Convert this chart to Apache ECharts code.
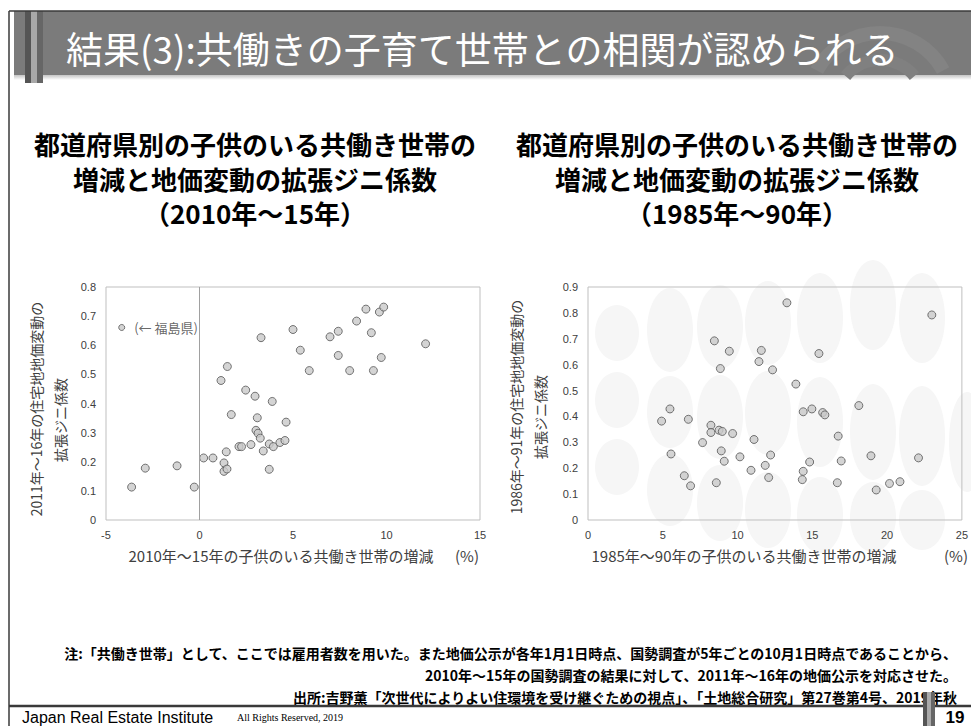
<!DOCTYPE html>
<html><head><meta charset="utf-8">
<script src="https://cdn.jsdelivr.net/npm/echarts@6/dist/echarts.min.js"></script>
<style>html,body{margin:0;padding:0;background:#fff}#c{width:971px;height:726px}</style>
</head><body><div id="c"></div>
<script>
// ---- data: 2010-15 (left) ----
const leftX = [-4.16,-3.63,-2.90,-1.20,-0.28,0.22,0.72,1.31,1.31,1.47,1.43,1.15,1.49,1.70,2.11,2.25,2.47,2.75,2.97,3.02,3.13,3.25,3.09,3.29,3.41,3.73,3.73,3.89,3.95,4.30,4.57,4.63,5.00,5.39,5.87,6.98,7.42,7.42,8.03,8.40,8.90,9.19,9.30,9.62,9.85,9.72,12.09];
const leftY = [0.661,0.113,0.178,0.186,0.113,0.213,0.213,0.196,0.167,0.175,0.234,0.479,0.527,0.362,0.252,0.252,0.446,0.259,0.425,0.308,0.298,0.281,0.351,0.626,0.237,0.261,0.174,0.407,0.252,0.266,0.273,0.336,0.654,0.583,0.513,0.629,0.648,0.565,0.513,0.683,0.724,0.643,0.513,0.714,0.731,0.558,0.605];
// ---- data: 1985-90 (right) ----
const rightX = [4.92,5.48,5.55,6.44,6.71,6.86,7.66,8.22,8.22,8.45,8.58,8.76,8.85,8.91,8.98,9.11,9.45,9.67,10.16,10.90,11.10,11.43,11.59,11.85,12.08,12.21,12.34,13.30,13.90,14.33,14.39,14.39,14.82,14.97,15.44,15.69,15.84,16.67,16.73,16.93,18.11,18.92,19.27,20.16,20.86,22.10,22.99];
const rightY = [0.382,0.429,0.255,0.171,0.389,0.132,0.299,0.366,0.338,0.692,0.144,0.347,0.585,0.267,0.342,0.227,0.652,0.334,0.244,0.192,0.311,0.612,0.655,0.211,0.164,0.251,0.580,0.839,0.525,0.156,0.188,0.418,0.224,0.429,0.643,0.415,0.406,0.144,0.324,0.228,0.442,0.248,0.116,0.141,0.148,0.240,0.792];
// axis ranges [min, max, interval]
const leftXRange = [-5, 15, 5];
const leftYRange = [0, 0.8, 0.1];
const rightXRange = [0, 25, 5];
const rightYRange = [0, 0.9, 0.1];
const labelFukushima = '(← 福島県)';
const highlightIndex = 0;

const CJK = "'Noto Sans CJK JP', 'Noto Sans', sans-serif";
const NUM = "'Liberation Sans', 'DejaVu Sans', sans-serif";

const chart = echarts.init(document.getElementById('c'), null, {renderer: 'svg'});

const pointStyle = {color: '#c9c9c9', borderColor: '#555555', borderWidth: 1};
const leftData = leftX.map((x, i) => {
  const d = {value: [x, leftY[i]]};
  if (i === highlightIndex) {
    d.symbolSize = 6;
    d.label = {show: true, position: 'right', distance: 9, formatter: labelFukushima,
      fontSize: 13, color: '#404040', fontFamily: CJK};
  }
  return d;
});
const rightData = rightX.map((x, i) => [x, rightY[i]]);

function xAxis(range, gi) {
  return {type: 'value', gridIndex: gi, min: range[0], max: range[1], interval: range[2],
    axisLine: {show: false}, axisTick: {show: false}, splitLine: {show: false},
    axisLabel: {color: '#404040', fontSize: 11, fontFamily: NUM, margin: 9}};
}
function yAxis(range, gi) {
  return {type: 'value', gridIndex: gi, min: range[0], max: range[1], interval: range[2],
    axisLine: {show: false}, axisTick: {show: false}, splitLine: {show: false},
    axisLabel: {color: '#404040', fontSize: 11, fontFamily: NUM, margin: 10,
      formatter: v => (Math.abs(v) < 1e-9 ? '0' : v.toFixed(1))}};
}

// decorative watermark ellipses (background pattern of the slide)
const deco = [
  [617,333,22,28],[617,400,22,28],[617,467,22,28],
  [670,330,23,42],[670,412,23,36],[670,490,23,36],
  [720,327,23,42],[720,417,23,42],[720,503,23,38],
  [768,323,23,42],[768,413,23,42],[768,510,23,38],
  [820,318,23,45],[820,422,23,45],[820,515,23,38],
  [873,305,23,45],[873,432,23,48],[873,517,23,35],
  [922,318,23,45],[922,436,23,50],[922,520,23,30],
  [967,442,18,50]
];
const decoEls = deco.map(d => ({type: 'circle', x: d[0], y: d[1], scaleY: d[3] / d[2],
  shape: {cx: 0, cy: 0, r: d[2]}, style: {fill: '#f6f6f6'}, z: -5, silent: true}));

const sub = (x, y, t) => ({type: 'text', x: x, y: y, style: {text: t, fill: '#000', font: "bold 26px " + CJK, textAlign: 'center', textVerticalAlign: 'middle'}});
const note = (y, t) => ({type: 'text', x: 957, y: y, style: {text: t, fill: '#000', font: "bold 14px " + CJK, textAlign: 'right', textVerticalAlign: 'middle'}});
const axT = (x, y, t, rot, size) => ({type: 'text', x: x, y: y, rotation: rot ? Math.PI / 2 : 0,
  style: {text: t, fill: '#404040', font: size + "px " + CJK, textAlign: 'center', textVerticalAlign: 'middle'}});

const graphic = [
  ...decoEls,
  // header bar
  {type: 'rect', shape: {x: 14, y: 75, width: 957, height: 5}, style: {fill: new echarts.graphic.LinearGradient(0,0,0,1,[{offset:0,color:'#c4c4c4'},{offset:1,color:'#ffffff'}])}, silent: true},
  {type: 'rect', shape: {x: 14, y: 11, width: 957, height: 64}, style: {fill: '#7b7b7b'}, silent: true},
  {type: 'arc', shape: {cx: 880, cy: 105, r: 72, startAngle: -Math.PI + 0.5, endAngle: -0.5}, style: {stroke: '#838383', lineWidth: 14, fill: null}, silent: true},
  {type: 'arc', shape: {cx: 880, cy: 105, r: 45, startAngle: -Math.PI + 0.7, endAngle: -0.7}, style: {stroke: '#808080', lineWidth: 12, fill: null}, silent: true},
  {type: 'rect', shape: {x: 25, y: 11, width: 6, height: 72}, style: {fill: '#555555'}, silent: true},
  {type: 'rect', shape: {x: 31, y: 11, width: 6, height: 72}, style: {fill: '#a8a8a8'}, silent: true},
  {type: 'rect', shape: {x: 37, y: 11, width: 6, height: 72}, style: {fill: '#666666'}, silent: true},
  // frame
  {type: 'line', shape: {x1: 9, y1: 11, x2: 971, y2: 11}, style: {stroke: '#3a3a3a', lineWidth: 1.5}, silent: true},
  {type: 'line', shape: {x1: 9, y1: 11, x2: 9, y2: 726}, style: {stroke: '#3a3a3a', lineWidth: 1.5}, silent: true},
  // title
  {type: 'text', x: 66, y: 48, style: {text: '結果(3):共働きの子育て世帯との相関が認められる', fill: '#ffffff',
    font: "normal 37px " + CJK, textVerticalAlign: 'middle', textAlign: 'left'}},
  // subtitles
  sub(255, 143, '都道府県別の子供のいる共働き世帯の'),
  sub(255, 178, '増減と地価変動の拡張ジニ係数'),
  sub(255, 212, '（2010年～15年）'),
  sub(737, 143, '都道府県別の子供のいる共働き世帯の'),
  sub(737, 178, '増減と地価変動の拡張ジニ係数'),
  sub(737, 212, '（1985年～90年）'),
  // axis titles left
  axT(36, 409, '2011年～16年の住宅地地価変動の', true, 14),
  axT(60, 420, '拡張ジニ係数', true, 14),
  axT(281, 555, '2010年～15年の子供のいる共働き世帯の増減', false, 15),
  axT(467, 555, '(%)', false, 15),
  // axis titles right
  axT(516, 407, '1986年～91年の住宅地地価変動の', true, 14),
  axT(540, 417, '拡張ジニ係数', true, 14),
  axT(744, 555, '1985年～90年の子供のいる共働き世帯の増減', false, 15),
  axT(956, 555, '(%)', false, 15),
  // notes
  note(653, '注:「共働き世帯」として、ここでは雇用者数を用いた。また地価公示が各年1月1日時点、国勢調査が5年ごとの10月1日時点であることから、'),
  note(675, '2010年～15年の国勢調査の結果に対して、2011年～16年の地価公示を対応させた。'),
  note(697, '出所:吉野薫「次世代によりよい住環境を受け継ぐための視点」、「土地総合研究」第27巻第4号、2019年秋'),
  // footer
  {type: 'line', shape: {x1: 9, y1: 706, x2: 971, y2: 706}, style: {stroke: '#3a3a3a', lineWidth: 2.5}, silent: true},
  {type: 'rect', shape: {x: 923, y: 692, width: 4, height: 34}, style: {fill: '#555555'}, silent: true},
  {type: 'rect', shape: {x: 927, y: 692, width: 4, height: 34}, style: {fill: '#aaaaaa'}, silent: true},
  {type: 'rect', shape: {x: 931, y: 692, width: 4, height: 34}, style: {fill: '#666666'}, silent: true},
  {type: 'text', x: 22, y: 717, style: {text: 'Japan Real Estate Institute', fill: '#000', font: "16px 'Liberation Sans Narrow', 'Liberation Sans', sans-serif", textAlign: 'left', textVerticalAlign: 'middle'}},
  {type: 'text', x: 237, y: 717, style: {text: 'All Rights Reserved, 2019', fill: '#000', font: "10px 'Liberation Serif', serif", textAlign: 'left', textVerticalAlign: 'middle'}},
  {type: 'text', x: 955, y: 717, style: {text: '19', fill: '#000', font: "bold 17px 'Liberation Sans Narrow', 'Liberation Sans', sans-serif", textAlign: 'center', textVerticalAlign: 'middle'}}
];

chart.setOption({
  animation: false,
  backgroundColor: '#ffffff',
  graphic: graphic,
  grid: [
    {left: 106, right: 491, top: 287, bottom: 206, show: true, borderColor: '#bfbfbf', borderWidth: 1, backgroundColor: 'transparent'},
    {left: 588, right: 9, top: 287, bottom: 206, show: true, borderColor: '#bfbfbf', borderWidth: 1, backgroundColor: 'transparent'}
  ],
  xAxis: [xAxis(leftXRange, 0), xAxis(rightXRange, 1)],
  yAxis: [yAxis(leftYRange, 0), yAxis(rightYRange, 1)],
  series: [
    {type: 'scatter', xAxisIndex: 0, yAxisIndex: 0, data: leftData, symbolSize: 8, itemStyle: pointStyle,
      markLine: {silent: true, symbol: 'none', label: {show: false}, lineStyle: {color: '#a0a0a0', type: 'solid', width: 1},
        data: [{xAxis: 0}]}},
    {type: 'scatter', xAxisIndex: 1, yAxisIndex: 1, data: rightData, symbolSize: 8, itemStyle: pointStyle}
  ]
});
</script></body></html>
